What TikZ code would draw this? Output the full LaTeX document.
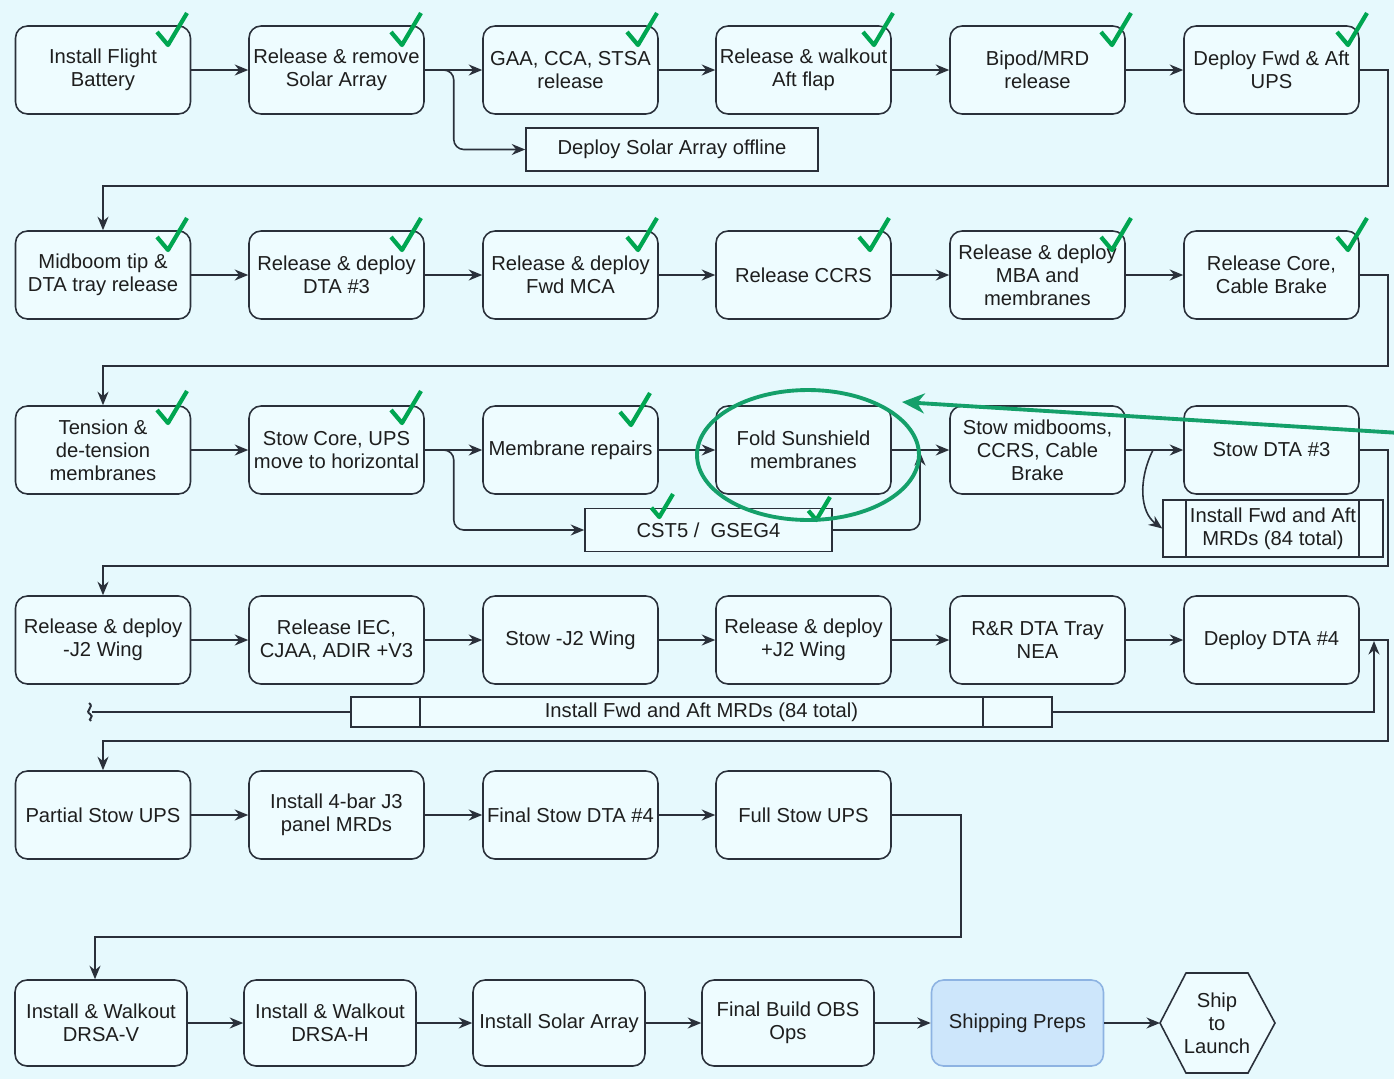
\documentclass[tikz,border=0pt]{standalone}
\usepackage{fontspec}
\setmainfont{Liberation Sans}
\usetikzlibrary{arrows.meta}

\definecolor{bgcyan}{HTML}{E6F9FD}
\definecolor{boxfill}{HTML}{EEFCFF}
\definecolor{edgegray}{HTML}{2A303A}
\definecolor{inkgray}{HTML}{1E1E1E}
\definecolor{checkgreen}{HTML}{00A651}
\definecolor{ringgreen}{HTML}{14A06A}
\definecolor{shipblue}{HTML}{CDE6FB}
\definecolor{shipedge}{HTML}{8DB3E2}

\tikzset{
  taskbox/.style={draw=edgegray, fill=boxfill, line width=0.9pt, rounded corners=0.24cm,
    minimum width=3.5cm, minimum height=1.76cm, align=center, inner sep=1pt,
    text=inkgray, font=\fontsize{11.5}{13}\selectfont},
  lastbox/.style={taskbox, minimum width=3.44cm, minimum height=1.72cm},
  sidebox/.style={draw=edgegray, fill=boxfill, line width=0.9pt, align=center,
    inner sep=1pt, text=inkgray, font=\fontsize{11.5}{13}\selectfont},
  flow/.style={draw=edgegray, line width=0.9pt, -{Stealth[length=0.27cm,width=0.22cm]}},
  donemark/.pic={\draw[checkgreen, line width=2.4pt, line join=round]
    (-30,19) -- (-19,32) -- (0,0);}
}

\begin{document}
\begin{tikzpicture}[x=0.02cm, y=-0.02cm]
  %–– Sfondo ––
  \fill[bgcyan] (0,0) rectangle (1394,1079);
  \useasboundingbox (0,0) rectangle (1394,1079);

  %–– Riga 1 ––
  \node[taskbox] (r1c1) at (103,70)    {Install Flight\\Battery};
  \node[taskbox] (r1c2) at (336.5,70)  {Release \& remove\\Solar Array};
  \node[taskbox] (r1c3) at (570.5,70)  {GAA, CCA, STSA\\release};
  \node[taskbox] (r1c4) at (803.5,70)  {Release \& walkout\\Aft flap};
  \node[taskbox] (r1c5) at (1037.5,70) {Bipod/MRD\\release};
  \node[taskbox] (r1c6) at (1271.5,70) {Deploy Fwd \& Aft\\UPS};
  \node[sidebox, minimum width=5.84cm, minimum height=0.86cm] (offline) at (672,149.5)
    {Deploy Solar Array offline};

  %–– Riga 2 ––
  \node[taskbox] (r2c1) at (103,275)    {Midboom tip \&\\DTA tray release};
  \node[taskbox] (r2c2) at (336.5,275)  {Release \& deploy\\DTA \#3};
  \node[taskbox] (r2c3) at (570.5,275)  {Release \& deploy\\Fwd MCA};
  \node[taskbox] (r2c4) at (803.5,275)  {Release CCRS};
  \node[taskbox] (r2c5) at (1037.5,275) {Release \& deploy\\MBA and\\membranes};
  \node[taskbox] (r2c6) at (1271.5,275) {Release Core,\\Cable Brake};

  %–– Riga 3 ––
  \node[taskbox] (r3c1) at (103,450)    {Tension \&\\de-tension\\membranes};
  \node[taskbox] (r3c2) at (336.5,450)  {Stow Core, UPS\\move to horizontal};
  \node[taskbox] (r3c3) at (570.5,450)  {Membrane repairs};
  \node[taskbox] (r3c4) at (803.5,450)  {Fold Sunshield\\membranes};
  \node[taskbox] (r3c5) at (1037.5,450) {Stow midbooms,\\CCRS, Cable\\Brake};
  \node[taskbox] (r3c6) at (1271.5,450) {Stow DTA \#3};
  \node[sidebox, minimum width=4.94cm, minimum height=0.86cm] (cst) at (708.5,530)
    {CST5 /\ \ GSEG4};
  \node[sidebox, minimum width=4.4cm, minimum height=1.14cm] (mrdA) at (1273,528.5)
    {Install Fwd and Aft\\MRDs (84 total)};
  \draw[edgegray, line width=0.9pt] ([xshift=0.48cm]mrdA.north west) -- ([xshift=0.48cm]mrdA.south west);
  \draw[edgegray, line width=0.9pt] ([xshift=-0.5cm]mrdA.north east) -- ([xshift=-0.5cm]mrdA.south east);

  %–– Riga 4 ––
  \node[taskbox] (r4c1) at (103,640)    {Release \& deploy\\-J2 Wing};
  \node[taskbox] (r4c2) at (336.5,640)  {Release IEC,\\CJAA, ADIR +V3};
  \node[taskbox] (r4c3) at (570.5,640)  {Stow -J2 Wing};
  \node[taskbox] (r4c4) at (803.5,640)  {Release \& deploy\\+J2 Wing};
  \node[taskbox] (r4c5) at (1037.5,640) {R\&R DTA Tray\\NEA};
  \node[taskbox] (r4c6) at (1271.5,640) {Deploy DTA \#4};
  \node[sidebox, minimum width=14.02cm, minimum height=0.6cm] (mrdB) at (701.5,712)
    {Install Fwd and Aft MRDs (84 total)};
  \draw[edgegray, line width=0.9pt] ([xshift=1.4cm]mrdB.north west) -- ([xshift=1.4cm]mrdB.south west);
  \draw[edgegray, line width=0.9pt] ([xshift=-1.4cm]mrdB.north east) -- ([xshift=-1.4cm]mrdB.south east);

  %–– Riga 5 ––
  \node[taskbox] (r5c1) at (103,815)   {Partial Stow UPS};
  \node[taskbox] (r5c2) at (336.5,815) {Install 4-bar J3\\panel MRDs};
  \node[taskbox] (r5c3) at (570.5,815) {Final Stow DTA \#4};
  \node[taskbox] (r5c4) at (803.5,815) {Full Stow UPS};

  %–– Riga 6 ––
  \node[lastbox] (r6c1) at (101,1023)  {Install \& Walkout\\DRSA-V};
  \node[lastbox] (r6c2) at (330,1023)  {Install \& Walkout\\DRSA-H};
  \node[lastbox] (r6c3) at (559,1023)  {Install Solar Array};
  \node[lastbox] (r6c4) at (788,1023)  {Final Build OBS\\Ops};
  \node[lastbox, fill=shipblue, draw=shipedge] (r6c5) at (1017.5,1023) {Shipping Preps};
  \draw[edgegray, fill=boxfill, line width=0.9pt]
    (1160,1023) -- (1186,973) -- (1248,973) -- (1275,1023) -- (1248,1073) -- (1186,1073) -- cycle;
  \coordinate (shipL) at (1160,1023);
  \node[align=center, text=inkgray, font=\fontsize{11.5}{13}\selectfont] (ship) at (1217,1023)
    {Ship\\to\\Launch};

  %–– Frecce nelle righe ––
  \draw[flow] (r1c1) -- (r1c2);
  \draw[flow] (r1c2) -- (r1c3);
  \draw[flow] (r1c3) -- (r1c4);
  \draw[flow] (r1c4) -- (r1c5);
  \draw[flow] (r1c5) -- (r1c6);
  \draw[flow, rounded corners=0.2cm] (r1c2.east) -- ++(29,0) |- (offline.west);

  \draw[flow] (r2c1) -- (r2c2);
  \draw[flow] (r2c2) -- (r2c3);
  \draw[flow] (r2c3) -- (r2c4);
  \draw[flow] (r2c4) -- (r2c5);
  \draw[flow] (r2c5) -- (r2c6);

  \draw[flow] (r3c1) -- (r3c2);
  \draw[flow] (r3c2) -- (r3c3);
  \draw[flow] (r3c3) -- (r3c4);
  \draw[flow] (r3c4) -- (r3c5);
  \draw[flow] (r3c5) -- (r3c6);
  \draw[flow, rounded corners=0.2cm] (r3c2.east) -- ++(29,0) |- (cst.west);
  \draw[flow, rounded corners=0.2cm] (cst.east) -| (920,452);
  \draw[flow] (1153,450) .. controls (1138,480) and (1140,512) .. (mrdA.west);

  \draw[flow] (r4c1) -- (r4c2);
  \draw[flow] (r4c2) -- (r4c3);
  \draw[flow] (r4c3) -- (r4c4);
  \draw[flow] (r4c4) -- (r4c5);
  \draw[flow] (r4c5) -- (r4c6);
  \draw[flow] (mrdB.east) -| (1374,641);
  \draw[edgegray, line width=0.9pt] (mrdB.west) -- (92,712);
  \draw[edgegray, line width=1.1pt] (89,703) .. controls (95,707) and (84,711) .. (90,714)
    .. controls (95,717) and (87,719) .. (91,721);

  \draw[flow] (r5c1) -- (r5c2);
  \draw[flow] (r5c2) -- (r5c3);
  \draw[flow] (r5c3) -- (r5c4);

  \draw[flow] (r6c1) -- (r6c2);
  \draw[flow] (r6c2) -- (r6c3);
  \draw[flow] (r6c3) -- (r6c4);
  \draw[flow] (r6c4) -- (r6c5);
  \draw[flow] (r6c5.east) -- (shipL);

  %–– Cambi di riga ––
  \draw[flow] (r1c6.east) -| (1388,186) -| (r2c1.north);
  \draw[flow] (r2c6.east) -| (1388,366) -| (r3c1.north);
  \draw[flow] (r3c6.east) -| (1388,566) -| (r4c1.north);
  \draw[flow] (r4c6.east) -| (1388,741) -| (r5c1.north);
  \draw[flow] (r5c4.east) -| (961,937) -| ([xshift=-0.12cm]r6c1.north);

  %–– Spunte ––
  \foreach \px/\py in {187/13, 421/13, 657/13, 893/13, 1131/13, 1367/13,
                       187/218, 421/218, 657/218, 889/218, 1131/218, 1367/218,
                       187/391, 421/391, 650/393}
    \pic at (\px,\py) {donemark};
  \pic[scale=0.72] at (673,494) {donemark};
  \pic[scale=0.72] at (830,497) {donemark};

  %–– Evidenziazione ––
  \draw[ringgreen, line width=2.2pt] (808,455) ellipse [x radius=2.22cm, y radius=1.3cm];
  \draw[ringgreen, line width=2.2pt, -{Stealth[length=0.45cm,width=0.4cm]}] (1400,433) -- (902,402);
\end{tikzpicture}
\end{document}
